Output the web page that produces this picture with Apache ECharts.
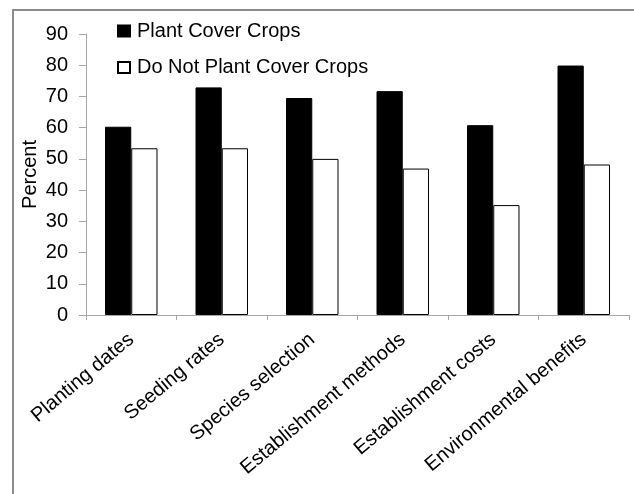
<!DOCTYPE html>
<html>
<head>
<meta charset="utf-8">
<script src="https://cdn.jsdelivr.net/npm/echarts@6/dist/echarts.min.js"></script>
<style>
  html, body { margin: 0; padding: 0; background: #fff; }
  #chart { width: 634px; height: 494px; }
</style>
</head>
<body>
<div id="chart"></div>
<script>
// Survey topics and the share of respondents in each group
const categories = [
  'Planting dates',
  'Seeding rates',
  'Species selection',
  'Establishment methods',
  'Establishment costs',
  'Environmental benefits'
];
const plantCoverCrops = [60.3, 72.9, 69.5, 71.7, 60.8, 79.9];
const doNotPlantCoverCrops = [53.4, 53.4, 50.0, 46.9, 35.2, 48.2];
const seriesNames = ['Plant Cover Crops', 'Do Not Plant Cover Crops'];
const yTicks = { min: 0, max: 90, interval: 10 };

const font = 'Liberation Sans, Arial, sans-serif';
const axisGray = '#a6a6a6';

const chart = echarts.init(document.getElementById('chart'), null, { renderer: 'canvas' });

chart.setOption({
  animation: false,
  backgroundColor: '#fff',
  graphic: [{
    type: 'rect',
    shape: { x: 13, y: 10, width: 640, height: 500 },
    style: { fill: 'none', stroke: '#8c8c8c', lineWidth: 2 },
    silent: true
  }],
  legend: {
    orient: 'vertical',
    left: 117,
    top: 21,
    padding: 0,
    itemWidth: 12,
    itemHeight: 11,
    itemGap: 16.5,
    icon: 'rect',
    textStyle: { fontFamily: font, fontSize: 20, lineHeight: 20, color: '#000', padding: [0, 0, 0, 2] },
    data: seriesNames
  },
  grid: { left: 86, right: 5, top: 34, bottom: 179, containLabel: false },
  xAxis: {
    type: 'category',
    data: categories,
    axisLine: { lineStyle: { color: axisGray, width: 1 } },
    axisTick: { show: true, length: 5, alignWithLabel: false, lineStyle: { color: axisGray } },
    axisLabel: {
      rotate: 40,
      interval: 0,
      margin: 22,
      fontFamily: font,
      fontSize: 20,
      color: '#000'
    },
    splitLine: { show: false }
  },
  yAxis: {
    type: 'value',
    min: yTicks.min,
    max: yTicks.max,
    interval: yTicks.interval,
    name: 'Percent',
    nameLocation: 'middle',
    nameGap: 46,
    nameMoveOverlap: false,
    nameTextStyle: { fontFamily: font, fontSize: 20, color: '#000' },
    axisLine: { show: true, lineStyle: { color: axisGray, width: 1 } },
    axisTick: { show: true, length: 7, lineStyle: { color: axisGray } },
    axisLabel: { margin: 18, fontFamily: font, fontSize: 20, color: '#000' },
    splitLine: { show: false }
  },
  series: [
    {
      name: seriesNames[0],
      type: 'bar',
      data: plantCoverCrops,
      barGap: '0%',
      barCategoryGap: '42%',
      itemStyle: { color: '#000', borderColor: '#000', borderWidth: 1 }
    },
    {
      name: seriesNames[1],
      type: 'bar',
      data: doNotPlantCoverCrops,
      itemStyle: { color: '#fff', borderColor: '#000', borderWidth: 1 }
    }
  ]
});
</script>
</body>
</html>
